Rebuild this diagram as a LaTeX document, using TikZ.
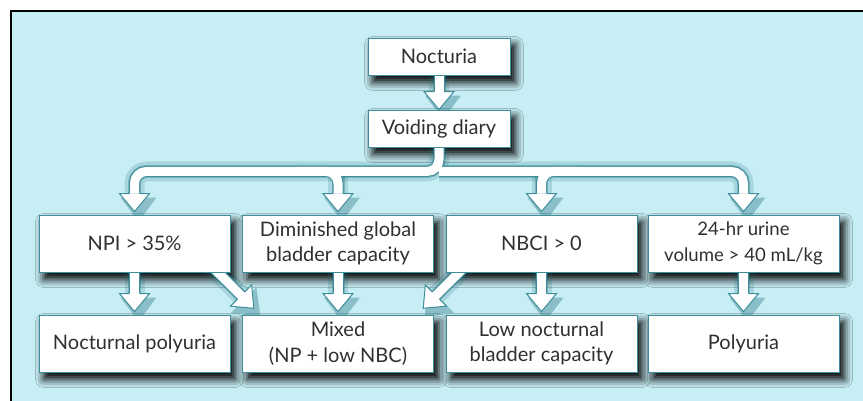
\documentclass[tikz,border=0pt]{standalone}
\usepackage{fontspec}
\setmainfont{Lato}
\usetikzlibrary{shadows.blur,calc}
\definecolor{bgc}{HTML}{C7EEF5}
\definecolor{lineteal}{HTML}{3E8E9B}
\definecolor{shteal}{HTML}{1A6A77}
\definecolor{txt}{HTML}{303030}
\pgfdeclarelayer{bg}\pgfdeclarelayer{arr}
\pgfsetlayers{bg,arr,main}
\begin{document}
\begin{tikzpicture}[x=1pt,y=-1pt,
  box/.style={draw=lineteal, line width=0.9pt, fill=white, text=txt,
    minimum width=191pt, minimum height=57pt, inner sep=2pt, align=center,
    font=\fontsize{20}{25.5}\selectfont},
  smallbox/.style={box, font=\fontsize{18.6}{25.5}\selectfont},
  topbox/.style={box, minimum width=142pt, minimum height=37pt},
  bshadow/.style={blur shadow={fill=shteal, shadow xshift=5pt, shadow yshift=-7pt,
    shadow blur radius=8pt, shadow opacity=100}},
  shout/.style={draw=lineteal, line width=11pt},
  shin/.style={draw=white, line width=9pt},
  ashadowa/.style={draw=shteal, line width=20pt, opacity=0.18},
  ashadowb/.style={draw=shteal, line width=13pt, opacity=0.32},
  head/.pic={\fill[white] (-15,0)--(0,18)--(15,0)--cycle;
    \draw[lineteal,line width=1pt,line join=miter] (-5,0)--(-15,0)--(0,18)--(15,0)--(5,0);},
  headsh/.pic={\fill[shteal,opacity=0.35] (-18,-2)--(0,22)--(18,-2)--cycle;}
]
\useasboundingbox (0,0) rectangle (863,401);

% boxes
\node[topbox] (noc) at (439,56.5) {Nocturia};
\node[topbox] (voi) at (439,128.5) {Voiding diary};
\node[box] (npi) at (134.5,243.5) {NPI > 35\%};
\node[box] (dim) at (338,243.5) {Diminished global\\bladder capacity};
\node[box] (nbci) at (541.5,243.5) {NBCI > 0};
\node[smallbox] (vol) at (743.5,243.5) {24-hr urine\\volume > 40 mL/kg};
\node[box] (np) at (134.5,343.5) {Nocturnal polyuria};
\node[box] (mix) at (338,343.5) {Mixed\\(NP + low NBC)};
\node[box] (low) at (541.5,343.5) {Low nocturnal\\bladder capacity};
\node[box] (poly) at (743.5,343.5) {Polyuria};

% arrow geometry
\coordinate (h0) at ($(voi.north)+(0,-18)$);
\coordinate (bar) at ($(voi.south)+(0,24)$);
\coordinate (barl) at ($(bar)+(-140,0)$);
\coordinate (barr) at ($(bar)+(140,0)$);
\coordinate (b1) at ($(npi.north)+(0,-21)$);
\coordinate (b2) at ($(dim.north)+(0,-21)$);
\coordinate (b3) at ($(nbci.north)+(0,-21)$);
\coordinate (b4) at ($(vol.north)+(0,-21)$);
\coordinate (c1) at ($(np.north)+(0,-21)$);
\coordinate (c2) at ($(mix.north)+(0,-21)$);
\coordinate (c3) at ($(low.north)+(0,-21)$);
\coordinate (c4) at ($(poly.north)+(0,-21)$);
\coordinate (d1b) at ($(mix.north west)+(-1,-19)$);
\coordinate (d1s) at ($(d1b)+(-40,-40)$);
\coordinate (d2b) at ($(mix.north east)+(2,-19)$);
\coordinate (d2s) at ($(d2b)+(40,-40)$);

\begin{pgfonlayer}{bg}
  \fill[white] (0,0) rectangle (863,401);
  \fill[bgc] (11,11) rectangle (863,401);
  \draw[black, line width=2.5pt] (11,401) -- (11,11) -- (863,11);
  \foreach \n in {noc,voi,npi,dim,nbci,vol,np,mix,low,poly}
    \fill[white,bshadow] (\n.north west) rectangle (\n.south east);
  \begin{scope}[shift={(4,6)}]
    \foreach \s in {ashadowa,ashadowb}{
      \draw[\s] (noc.south) -- (h0);
      \draw[\s, rounded corners=12pt] (voi.south) -- (bar) -| (b1);
      \draw[\s, rounded corners=12pt] (bar) -| (b4);
      \draw[\s] (npi.south) -- (c1);
      \draw[\s] (dim.south) -- (c2);
      \draw[\s] (nbci.south) -- (c3);
      \draw[\s] (vol.south) -- (c4);
      \draw[\s] (d1s) -- (d1b);
      \draw[\s] (d2s) -- (d2b);
      \draw[\s] (b2 |- bar) -- (b2);
      \draw[\s] (b3 |- bar) -- (b3);
    }
  \end{scope}
  \foreach \p in {h0,b1,b2,b3,b4,c1,c2,c3,c4}
    \pic at ($(\p)+(4,6)$) {headsh};
  \pic[rotate=45] at ($(d1b)+(4,6)$) {headsh};
  \pic[rotate=-45] at ($(d2b)+(4,6)$) {headsh};
\end{pgfonlayer}

\begin{pgfonlayer}{arr}
  \foreach \s in {shout,shin}{
    \draw[\s] (noc.south) -- (h0);
    \draw[\s, rounded corners=12pt] (voi.south) -- (bar) -| (b1);
    \draw[\s, rounded corners=12pt] (bar) -| (b4);
    \draw[\s, rounded corners=12pt] (barl) -| (b2);
    \draw[\s, rounded corners=12pt] (barr) -| (b3);
    \draw[\s] (npi.south) -- (c1);
    \draw[\s] (dim.south) -- (c2);
    \draw[\s] (nbci.south) -- (c3);
    \draw[\s] (vol.south) -- (c4);
    \draw[\s] (d1s) -- (d1b);
    \draw[\s] (d2s) -- (d2b);
  }
  \foreach \p in {h0,b1,b2,b3,b4,c1,c2,c3,c4}
    \pic at (\p) {head};
  \pic[rotate=45] at (d1b) {head};
  \pic[rotate=-45] at (d2b) {head};
\end{pgfonlayer}
\end{tikzpicture}
\end{document}
